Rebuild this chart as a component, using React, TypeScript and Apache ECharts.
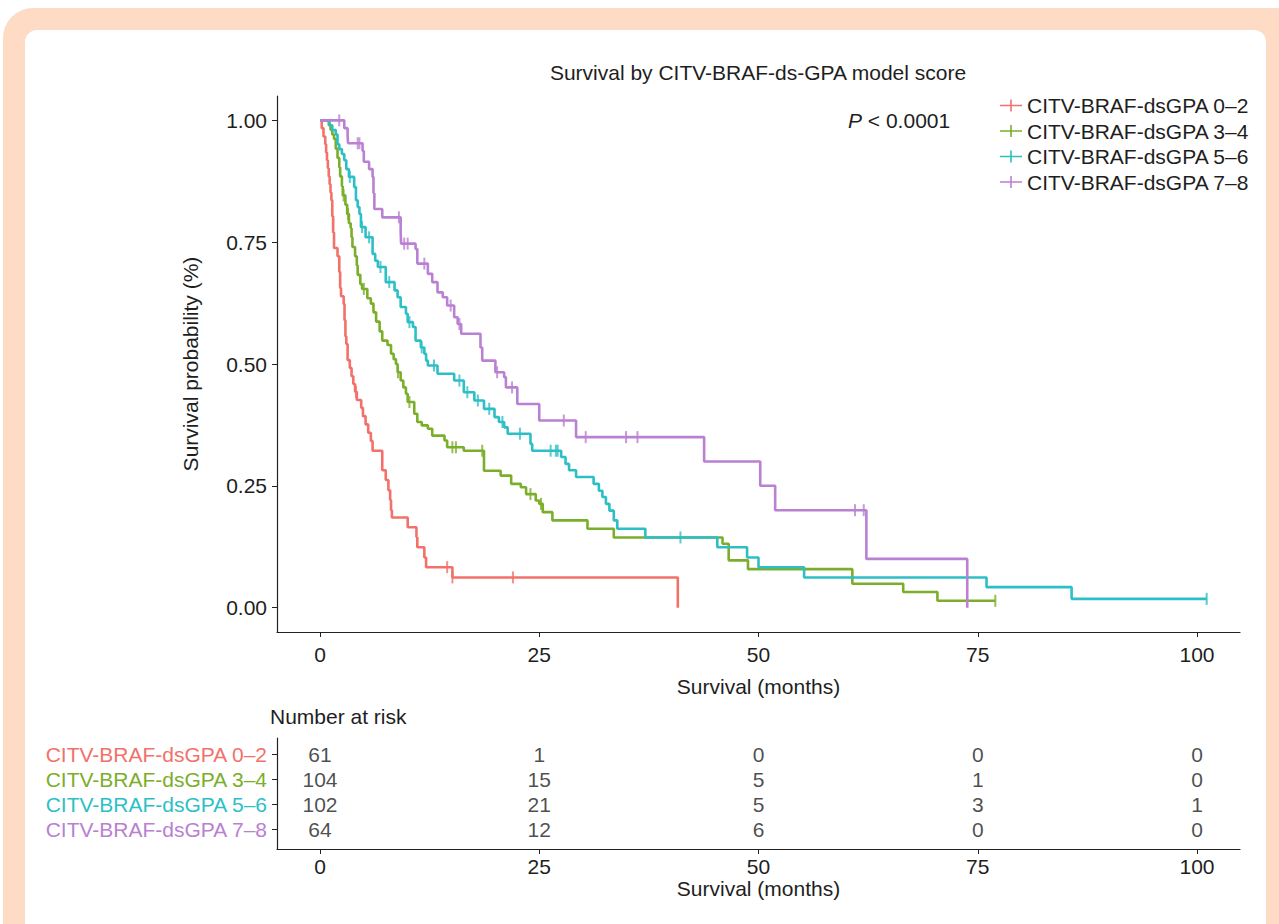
import React, { useEffect, useRef } from "react";
import * as echarts from "echarts";

const groupNames = [
  "CITV-BRAF-dsGPA 0–2",
  "CITV-BRAF-dsGPA 3–4",
  "CITV-BRAF-dsGPA 5–6",
  "CITV-BRAF-dsGPA 7–8",
];
const groupColors = ["#F2716B", "#7BAE2A", "#2DBFC6", "#BA80D2"];

// Kaplan-Meier steps: [month, survival probability]
const curve02: [number, number][] = [
  [0, 1], [0.2, 0.984], [0.4, 0.967], [0.6, 0.951], [0.7, 0.934], [0.8, 0.918], [0.9, 0.902],
  [1.0, 0.885], [1.1, 0.869], [1.2, 0.852], [1.3, 0.836], [1.4, 0.803], [1.5, 0.77], [1.6, 0.738],
  [2.0, 0.721], [2.2, 0.689], [2.3, 0.656], [2.4, 0.639], [2.7, 0.623], [2.8, 0.59], [2.9, 0.557],
  [3.0, 0.541], [3.15, 0.508], [3.4, 0.492], [3.6, 0.475], [3.8, 0.459], [4.0, 0.443], [4.2, 0.426],
  [4.7, 0.41], [4.9, 0.393], [5.2, 0.376], [5.5, 0.359], [5.8, 0.342], [6.0, 0.322], [7.1, 0.282],
  [7.5, 0.262], [7.8, 0.241], [8.0, 0.221], [8.1, 0.2], [8.2, 0.185], [10.0, 0.165], [11.0, 0.145],
  [11.1, 0.124], [11.9, 0.103], [12.1, 0.083], [15.1, 0.062], [40.8, 0],
];
const curve34: [number, number][] = [
  [0, 1], [1.0, 0.99], [1.2, 0.981], [1.4, 0.971], [1.6, 0.962], [1.8, 0.942], [2.0, 0.923],
  [2.2, 0.904], [2.3, 0.885], [2.5, 0.865], [2.6, 0.846], [2.9, 0.827], [3.1, 0.808], [3.3, 0.789],
  [3.5, 0.779], [3.6, 0.76], [3.7, 0.74], [4.0, 0.721], [4.2, 0.702], [4.3, 0.683], [4.6, 0.664],
  [4.8, 0.654], [5.4, 0.635], [5.8, 0.624], [6.1, 0.606], [6.4, 0.587], [6.8, 0.567], [7.1, 0.548],
  [7.7, 0.539], [8.1, 0.521], [8.4, 0.51], [8.66, 0.5], [8.85, 0.483], [9.2, 0.466], [9.5, 0.452],
  [9.8, 0.439], [10.0, 0.422], [10.75, 0.398], [11.1, 0.381], [11.6, 0.374], [12.3, 0.367],
  [12.8, 0.353], [14.2, 0.343], [14.5, 0.329], [16.4, 0.322], [18.7, 0.281], [20.6, 0.271],
  [21.8, 0.254], [22.9, 0.247], [23.5, 0.233], [24.6, 0.22], [25.0, 0.213], [25.4, 0.196],
  [26.5, 0.179], [30.5, 0.162], [33.5, 0.144], [45.9, 0.131], [46.6, 0.097], [48.8, 0.079],
  [60.7, 0.049], [66.5, 0.032], [70.4, 0.014], [77.0, 0.014],
];
const curve56: [number, number][] = [
  [0, 1], [1.1, 0.99], [1.4, 0.98], [1.8, 0.971], [2.0, 0.951], [2.2, 0.941], [2.5, 0.931],
  [2.77, 0.918], [3.0, 0.9], [3.3, 0.884], [3.9, 0.863], [4.1, 0.836], [4.3, 0.822], [4.5, 0.808],
  [4.67, 0.781], [5.2, 0.76], [6.0, 0.726], [6.3, 0.712], [6.6, 0.699], [7.5, 0.668], [8.5, 0.651],
  [8.85, 0.637], [9.2, 0.617], [9.8, 0.603], [10.0, 0.586], [10.6, 0.576], [10.9, 0.548],
  [11.5, 0.534], [11.9, 0.521], [12.1, 0.507], [12.3, 0.497], [13.4, 0.48], [15.3, 0.466],
  [16.4, 0.442], [17.6, 0.425], [18.7, 0.408], [19.9, 0.391], [20.4, 0.381], [21.0, 0.37],
  [21.4, 0.357], [24.0, 0.336], [24.2, 0.322], [27.5, 0.309], [28.0, 0.295], [28.4, 0.282],
  [29.2, 0.268], [31.2, 0.254], [31.8, 0.24], [32.2, 0.227], [32.6, 0.213], [33.0, 0.199],
  [33.5, 0.179], [33.9, 0.162], [37.1, 0.144], [45.3, 0.124], [48.7, 0.103], [50.0, 0.083],
  [55.2, 0.062], [76.0, 0.042], [85.7, 0.018], [101.1, 0.018],
];
const curve78: [number, number][] = [
  [0, 1], [2.77, 0.984], [3.15, 0.969], [3.2, 0.953], [4.86, 0.937], [5.0, 0.915], [5.6, 0.9],
  [6.0, 0.884], [6.1, 0.851], [6.2, 0.818], [7.1, 0.801], [9.2, 0.77], [9.25, 0.747], [10.9, 0.736],
  [11.1, 0.706], [12.3, 0.685], [12.8, 0.668], [13.4, 0.647], [14.0, 0.637], [14.5, 0.62],
  [15.3, 0.596], [15.7, 0.582], [16.1, 0.562], [18.3, 0.534], [18.5, 0.507], [20.0, 0.483],
  [21.0, 0.473], [21.2, 0.452], [22.5, 0.418], [25.0, 0.384], [29.2, 0.35], [43.8, 0.3],
  [50.2, 0.25], [51.9, 0.2], [62.3, 0.1], [73.8, 0],
];

// censoring times (months)
const censor02 = [4.1, 14.5, 15.1, 22.0];
const censor34 = [2.7, 3.2, 5.0, 8.9, 10.2, 15.1, 15.5, 18.5, 24.0, 25.2, 77.0];
const censor56 = [3.4, 4.8, 5.6, 6.9, 7.9, 10.2, 11.6, 13.0, 15.9, 16.8, 18.0, 19.3, 20.8, 22.8, 26.3, 26.9, 27.1, 41.1, 101.1];
const censor78 = [2.2, 4.3, 4.5, 9.0, 9.6, 10.0, 11.9, 14.9, 15.9, 20.2, 21.9, 27.8, 30.3, 34.9, 36.2, 61.0, 62.0];

// number at risk
const riskTimes = [0, 25, 50, 75, 100];
const risk02 = [61, 1, 0, 0, 0];
const risk34 = [104, 15, 5, 1, 0];
const risk56 = [102, 21, 5, 3, 1];
const risk78 = [64, 12, 6, 0, 0];

const xTicks = [0, 25, 50, 75, 100];
const yTicks = [0, 0.25, 0.5, 0.75, 1];
const riskRows = [1, 2, 3, 4];

const FONT = "'Liberation Sans', Arial, Helvetica, sans-serif";
const TXT = "#1e1e1e";
const AX = "#222";
const FS = 21;

function survAt(curve: [number, number][], t: number) {
  let s = 1;
  for (const [ti, si] of curve) if (ti <= t) s = si;
  return s;
}

const PLUS = "path://M0,5.2h22v1.6h-22z M10.2,0h1.6v12h-1.6z";

export default function App() {
  const ref = useRef<HTMLDivElement>(null);
  useEffect(() => {
    if (!ref.current) return;
    const chart = echarts.init(ref.current, undefined, { renderer: "svg" });
    const curves = [curve02, curve34, curve56, curve78];
    const censors = [censor02, censor34, censor56, censor78];
    const risks = [risk02, risk34, risk56, risk78];
    const series: any[] = [];
    curves.forEach((c, i) => {
      series.push({
        type: "line",
        name: groupNames[i],
        xAxisIndex: 0,
        yAxisIndex: 0,
        step: "end",
        data: c,
        showSymbol: false,
        symbol: "none",
        lineStyle: { width: 2.6, color: groupColors[i] },
        itemStyle: { color: groupColors[i] },
        silent: true,
      });
      series.push({
        type: "scatter",
        name: groupNames[i],
        xAxisIndex: 0,
        yAxisIndex: 0,
        data: censors[i].map((t) => [t, survAt(c, t)]),
        symbol: "rect",
        symbolSize: [2, 12],
        itemStyle: { color: groupColors[i] },
        silent: true,
      });
    });
    risks.forEach((r, i) => {
      series.push({
        type: "scatter",
        xAxisIndex: 1,
        yAxisIndex: 1,
        data: riskTimes.map((t, j) => [t, riskRows[i], r[j]]),
        symbolSize: 0,
        silent: true,
        label: {
          show: true,
          position: "inside",
          formatter: (p: any) => String(p.value[2]),
          fontSize: FS,
          color: TXT,
          fontFamily: FONT,
        },
      });
    });

    const axisCommon = {
      axisLine: { show: true, onZero: false, lineStyle: { color: AX, width: 1.2 } },
      splitLine: { show: false },
    };
    const rich: any = {};
    groupColors.forEach((c, i) => {
      rich["g" + i] = { color: c, fontSize: FS, fontFamily: FONT };
    });

    chart.setOption({
      animation: false,
      backgroundColor: "transparent",
      grid: [
        { left: 277, right: 39, top: 96, height: 536 },
        { left: 277, right: 39, top: 738, height: 111 },
      ],
      legend: {
        data: groupNames.map((n) => ({ name: n, icon: PLUS })),
        orient: "vertical",
        left: 995,
        top: 90,
        itemWidth: 22,
        itemHeight: 12,
        itemGap: 4.5,
        selectedMode: false,
        textStyle: { fontSize: FS, color: TXT, fontFamily: FONT, padding: [0, 0, 0, 0] },
      },
      xAxis: [
        {
          type: "value",
          gridIndex: 0,
          min: -4.9,
          max: 104.9,
          ...axisCommon,
          axisTick: { show: true, length: 5, customValues: xTicks, lineStyle: { color: AX } },
          axisLabel: { customValues: xTicks, fontSize: FS, color: TXT, margin: 12, fontFamily: FONT },
          name: "Survival (months)",
          nameLocation: "middle",
          nameGap: 44,
          nameTextStyle: { fontSize: FS, color: TXT, fontFamily: FONT },
        },
        {
          type: "value",
          gridIndex: 1,
          min: -4.9,
          max: 104.9,
          ...axisCommon,
          axisTick: { show: true, length: 5, customValues: xTicks, lineStyle: { color: AX } },
          axisLabel: { customValues: xTicks, fontSize: FS, color: TXT, margin: 7, fontFamily: FONT },
          name: "Survival (months)",
          nameLocation: "middle",
          nameGap: 29,
          nameTextStyle: { fontSize: FS, color: TXT, fontFamily: FONT },
        },
      ],
      yAxis: [
        {
          type: "value",
          gridIndex: 0,
          min: -0.05,
          max: 1.05,
          ...axisCommon,
          axisTick: { show: true, length: 5, customValues: yTicks, lineStyle: { color: AX } },
          axisLabel: {
            customValues: yTicks,
            formatter: (v: number) => v.toFixed(2),
            fontSize: FS,
            color: TXT,
            margin: 10,
            fontFamily: FONT,
          },
          name: "Survival probability (%)",
          nameLocation: "middle",
          nameGap: 76,
          nameRotate: 90,
          nameTextStyle: { fontSize: FS, color: TXT, fontFamily: FONT },
        },
        {
          type: "value",
          gridIndex: 1,
          inverse: true,
          min: 0.36,
          max: 4.8,
          ...axisCommon,
          axisTick: { show: true, length: 5, customValues: riskRows, lineStyle: { color: AX } },
          axisLabel: {
            customValues: riskRows,
            formatter: (v: number) => {
              const i = Math.round(v) - 1;
              return `{g${i}|${groupNames[i]}}`;
            },
            rich,
            margin: 10,
            fontSize: FS,
            fontFamily: FONT,
          },
        },
      ],
      graphic: [
        {
          type: "text",
          x: 758,
          y: 72,
          style: {
            text: "Survival by CITV-BRAF-ds-GPA model score",
            fontSize: FS,
            fontFamily: FONT,
            fill: TXT,
            align: "center",
            verticalAlign: "middle",
          },
        },
        {
          type: "text",
          x: 848,
          y: 120,
          style: {
            text: "{i|P} < 0.0001",
            rich: { i: { fontStyle: "italic", fontSize: FS, fontFamily: FONT, fill: TXT } },
            fontSize: FS,
            fontFamily: FONT,
            fill: TXT,
            align: "left",
            verticalAlign: "middle",
          },
        },
        {
          type: "text",
          x: 270,
          y: 716,
          style: {
            text: "Number at risk",
            fontSize: FS,
            fontFamily: FONT,
            fill: TXT,
            align: "left",
            verticalAlign: "middle",
          },
        },
      ],
      series,
    });
    return () => chart.dispose();
  }, []);

  return (
    <div style={{ position: "absolute", left: 0, top: 0, width: 1279, height: 924, overflow: "hidden", background: "#fff" }}>
      <div style={{ position: "absolute", left: 3, top: 8, width: 1330, height: 980, borderRadius: 30, background: "#FDDBC5" }} />
      <div style={{ position: "absolute", left: 25, top: 30, width: 1241, height: 980, borderRadius: 12, background: "#fff" }} />
      <div ref={ref} style={{ position: "absolute", left: 0, top: 0, width: 1279, height: 924 }} />
    </div>
  );
}
